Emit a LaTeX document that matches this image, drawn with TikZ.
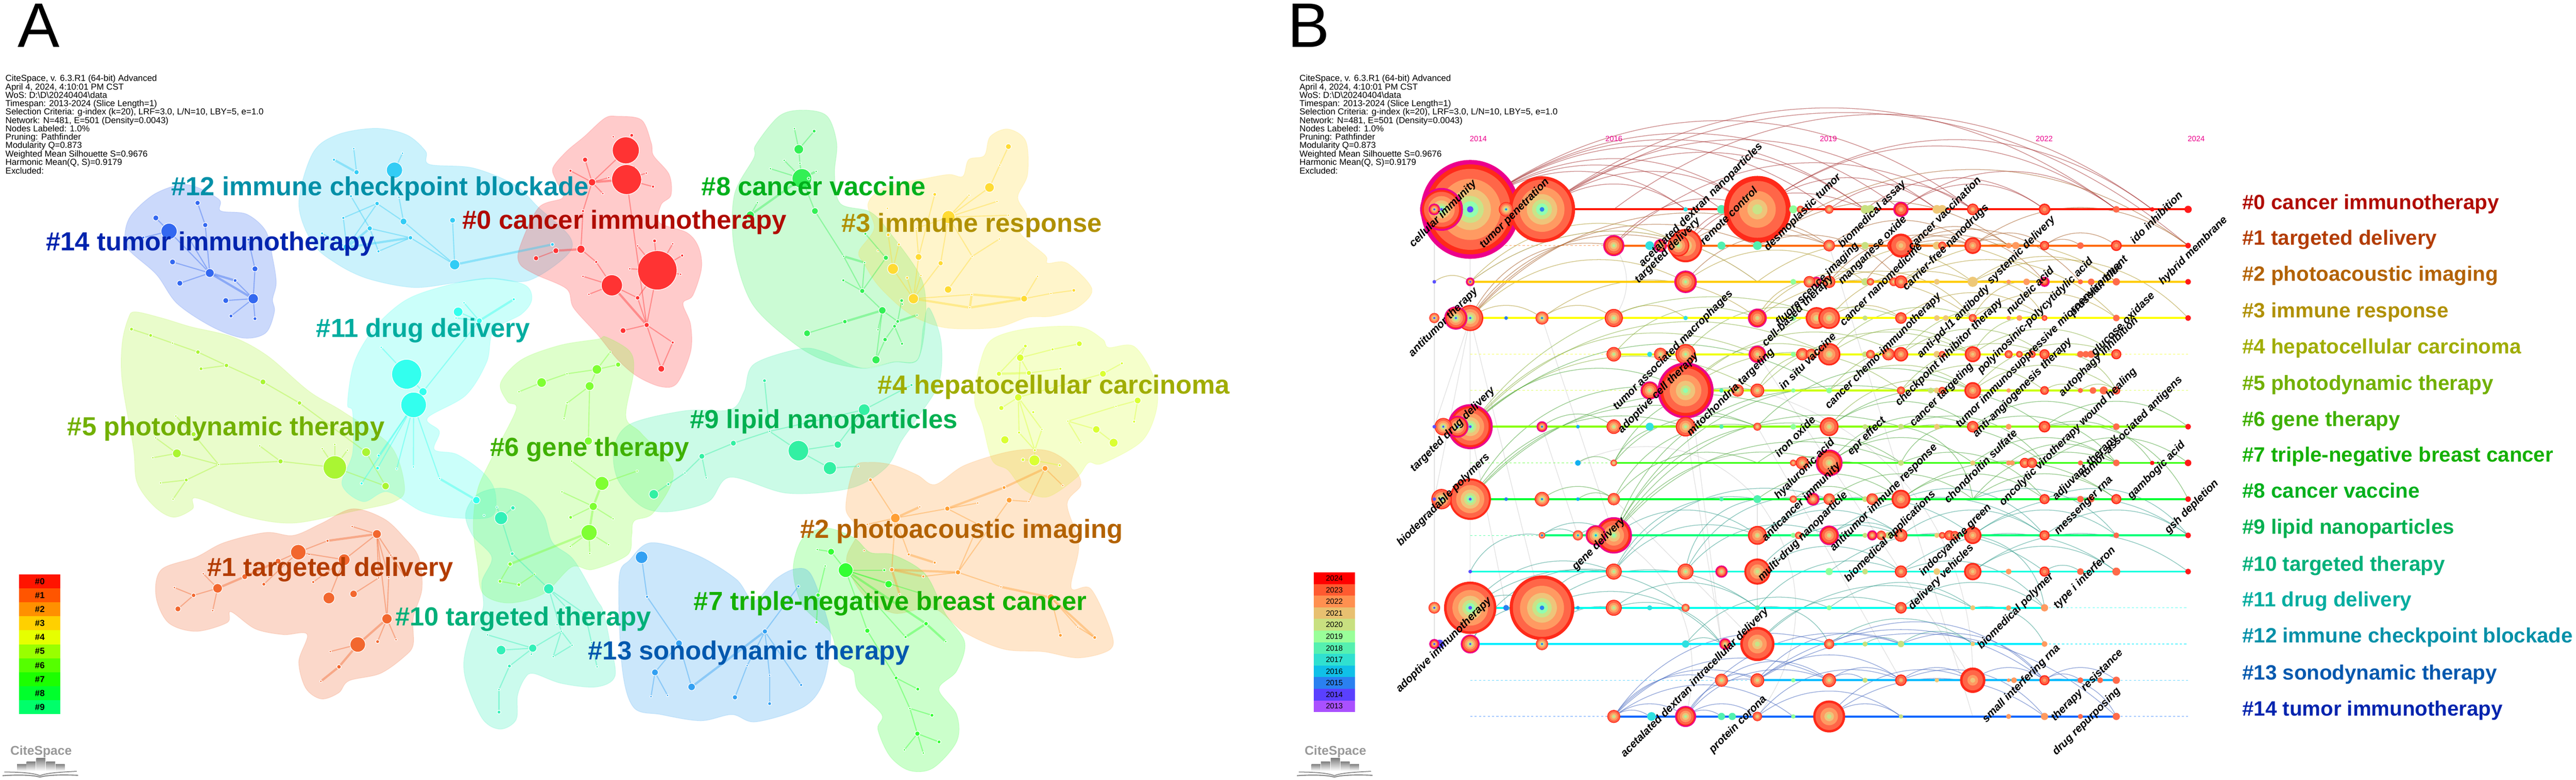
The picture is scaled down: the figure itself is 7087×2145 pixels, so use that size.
\documentclass[tikz,border=0pt]{standalone}
\usepackage{fontspec}
\setmainfont{Liberation Sans}
\definecolor{cl0}{HTML}{FF3333}\definecolor{cl1}{HTML}{F2672E}\definecolor{cl2}{HTML}{FF9F33}
\definecolor{cl3}{HTML}{FFDB33}\definecolor{cl4}{HTML}{DAFF33}\definecolor{cl5}{HTML}{AAF533}
\definecolor{cl6}{HTML}{7FFF33}\definecolor{cl7}{HTML}{33FF33}\definecolor{cl8}{HTML}{33F055}
\definecolor{cl9}{HTML}{33F0A3}\definecolor{cl10}{HTML}{33F0B8}\definecolor{cl11}{HTML}{33FFEE}
\definecolor{cl12}{HTML}{33CCF5}\definecolor{cl13}{HTML}{33A0F2}\definecolor{cl14}{HTML}{3368F0}
\definecolor{tx0}{HTML}{B00B00}\definecolor{tx1}{HTML}{B33C00}\definecolor{tx2}{HTML}{B36200}
\definecolor{tx3}{HTML}{B09000}\definecolor{tx4}{HTML}{A0AD00}\definecolor{tx5}{HTML}{72B000}
\definecolor{tx6}{HTML}{3FB000}\definecolor{tx7}{HTML}{14B000}\definecolor{tx8}{HTML}{00B01C}
\definecolor{tx9}{HTML}{00B050}\definecolor{tx10}{HTML}{00B07A}\definecolor{tx11}{HTML}{00ADA0}
\definecolor{tx12}{HTML}{0090A8}\definecolor{tx13}{HTML}{0058AE}\definecolor{tx14}{HTML}{0024AE}
\definecolor{cc0}{HTML}{5A50FF}\definecolor{cc1}{HTML}{2A80F0}\definecolor{cc2}{HTML}{10B0F0}
\definecolor{cc3}{HTML}{30E0E0}\definecolor{cc4}{HTML}{50F0B0}\definecolor{cc5}{HTML}{90FF9A}
\definecolor{cc6}{HTML}{C8E080}\definecolor{cc7}{HTML}{EEC878}\definecolor{cc8}{HTML}{FF9A60}
\definecolor{cc9}{HTML}{FF6A4A}\definecolor{cc10}{HTML}{FF1A1A}
\definecolor{lc0}{HTML}{FF1A00}\definecolor{lc1}{HTML}{FF6A00}\definecolor{lc2}{HTML}{FFCC00}
\definecolor{lc3}{HTML}{FFFF00}\definecolor{lc4}{HTML}{F0FF00}\definecolor{lc5}{HTML}{CCFF00}
\definecolor{lc6}{HTML}{88FF00}\definecolor{lc7}{HTML}{33FF00}\definecolor{lc8}{HTML}{00FF33}
\definecolor{lc9}{HTML}{00FF77}\definecolor{lc10}{HTML}{00FFDD}\definecolor{lc11}{HTML}{00FFEE}
\definecolor{lc12}{HTML}{00EEFF}\definecolor{lc13}{HTML}{00BBFF}\definecolor{lc14}{HTML}{0066FF}
\definecolor{rA}{HTML}{FF2A1A}\definecolor{rB}{HTML}{FF6648}\definecolor{rC}{HTML}{FF9A62}
\definecolor{rD}{HTML}{EFC47A}\definecolor{rE}{HTML}{C8E488}\definecolor{rF}{HTML}{90FFB0}
\definecolor{arcR}{HTML}{A83838}\definecolor{arcB}{HTML}{A8602A}\definecolor{arcO}{HTML}{B09A30}
\definecolor{arcL}{HTML}{88B040}\definecolor{arcG}{HTML}{50A840}\definecolor{arcT}{HTML}{3AA090}
\definecolor{arcU}{HTML}{4A6CC0}\definecolor{arcX}{HTML}{CFCFCF}
\tikzset{
 zA/.style={shift={(200,250)},x=.957pt,y=-.574pt},
 zB/.style={shift={(1700,250)},x=1.084pt,y=-.574pt},
 zC/.style={shift={(300,1100)},x=.957pt,y=-.6665pt},
 zD/.style={shift={(1700,1100)},x=1.084pt,y=-.6665pt},
 zE/.style={shift={(3550,300)},x=1.148pt,y=-.574pt},
 zF/.style={shift={(5000,300)},x=1.331pt,y=-.574pt},
 zG/.style={shift={(3550,1200)},x=1.148pt,y=-.6027pt},
 zH/.style={shift={(5000,1200)},x=1.331pt,y=-.6027pt},
 netnode/.style={circle,draw=white,line width=1.6pt,inner sep=0pt},
 blob/.style={fill=#1,fill opacity=.25,draw=#1,draw opacity=.15,line width=2pt},
 clusterA/.style={font=\fontsize{72}{72}\selectfont\bfseries,anchor=west,inner sep=0pt,text height=54pt,text depth=18pt},
 clusterB/.style={font=\fontsize{57}{57}\selectfont\bfseries,anchor=west,inner sep=0pt,text height=43pt,text depth=14pt},
 infotext/.style={font=\fontsize{24}{21.9}\selectfont,align=left,anchor=north west,inner sep=0pt},
 term/.style={font=\fontsize{30}{30}\selectfont\bfseries\itshape,rotate=45,anchor=west,inner sep=0pt,text=black},
 yearlab/.style={font=\fontsize{21}{21}\selectfont,text=magenta,inner sep=0pt},
 arcstyle/.style={draw=#1,draw opacity=.6,line width=1.8pt},
 laneS/.style={draw=#1,line width=5.5pt},
 laneD/.style={draw=#1,line width=1.6pt,dash pattern=on 6pt off 6pt,draw opacity=.6},
 legcell/.style={inner sep=0pt,minimum width=113pt,font=\bfseries\fontsize{24}{24}\selectfont}
}
\newdimen\dimAx\newdimen\dimAy\newdimen\dimBx\newdimen\dimBy
\newcommand\NetNodes[3]{\foreach \n/\px/\py/\r in {#3}{\node[netnode,fill=#2,minimum size=2*\r pt] (#1\n) at (\px,\py) {};}}
\newcommand\NetEdges[4]{\foreach \a/\b in {#4}{\draw[#2,draw opacity=.42,line width=#3pt] (#1\a) -- (#1\b);}}
\newcommand\ArcSet[2]{\foreach \a/\b in {#2}{%
  \pgfextractx{\dimAx}{\pgfpointanchor{g\a}{center}}\pgfextracty{\dimAy}{\pgfpointanchor{g\a}{center}}%
  \pgfextractx{\dimBx}{\pgfpointanchor{g\b}{center}}\pgfextracty{\dimBy}{\pgfpointanchor{g\b}{center}}%
  \pgfmathsetmacro\ddx{(\dimBx-\dimAx)}\pgfmathsetmacro\ddy{(\dimBy-\dimAy)}%
  \pgfmathsetmacro\cax{\dimAx+.3127*\ddx-.2356*\ddy}\pgfmathsetmacro\cay{\dimAy+.2356*\ddx+.3127*\ddy}%
  \pgfmathsetmacro\cbx{\dimBx-.3127*\ddx-.2356*\ddy}\pgfmathsetmacro\cby{\dimBy+.2356*\ddx-.3127*\ddy}%
  \draw[arcstyle=#1] (g\a) .. controls (\cax pt,\cay pt) and (\cbx pt,\cby pt) .. (g\b);}}
\newcommand\CNodes[2]{\foreach \c/\R/\f [count=\k] in {#2}{%
  \pgfmathsetmacro\xx{3946+98.75*\c}\pgfmathsetmacro\yy{576+99.65*#1}%
  \pgfmathtruncatemacro\ci{\c}\pgfmathtruncatemacro\cj{\c/2}%
  \ifnum\f=2
    \node[circle,inner sep=0pt,fill=cc\cj,minimum size=2*\R pt] (L#1N\k) at (\xx,\yy) {};
  \else
    \node[circle,inner sep=0pt,minimum size=2*\R pt] (L#1N\k) at (\xx,\yy) {};
    \pgfmathsetmacro\Rr{\R}%
    \ifnum\f=1
      \fill[magenta] (\xx,\yy) circle[radius=\R];
      \pgfmathsetmacro\Rr{\R-max(3.5,.09*\R)}%
    \fi
    \ifnum\ci<5 \def\rl{1/rA,.9/rB,.68/rC,.46/rD,.3/rE,.18/rF}%
    \else\ifnum\ci<9 \def\rl{1/rA,.88/rB,.62/rC,.38/rD,.2/rE,.1/rF}%
    \else\ifnum\ci<13 \def\rl{1/rA,.85/rB,.55/rC,.3/rD,.15/rE}%
    \else\ifnum\ci<17 \def\rl{1/rA,.8/rB,.42/rC,.2/rD}%
    \else\ifnum\ci<20 \def\rl{1/rA,.75/rB,.35/rC}%
    \else \def\rl{1/rA}\fi\fi\fi\fi\fi
    \foreach \ff/\col in \rl {\fill[\col] (\xx,\yy) circle[radius=\ff*\Rr];}%
    \ifnum\ci<5 \pgfmathsetmacro\Rc{max(3,.07*\Rr)}\fill[cc\cj] (\xx,\yy) circle[radius=\Rc];\fi
  \fi}}
\newcommand\Logo[2]{\begin{scope}[shift={(#1,0)}]
 \node[text=black!40,font=\bfseries\fontsize{35}{35}\selectfont,inner sep=0pt] (logotext#2) at (113,2068) {CiteSpace};
 \foreach \xa/\xb/\yt in {47/72/2102,73/98/2095,100/125/2086,127/152/2095,153/178/2102}{
  \shade[top color=black!50,bottom color=white] (\xa,\yt) rectangle (\xb,2121);}
 \draw[black!45,line width=2.5pt] (12,2124) .. controls (50,2124) and (90,2126) .. (110,2134) .. controls (130,2126) and (170,2124) .. (211,2122);
 \draw[black!45,line width=3pt] (7,2134) .. controls (50,2131) and (90,2132) .. (110,2138) .. controls (130,2132) and (170,2131) .. (215,2133);
\end{scope}}
\begin{document}
\begin{tikzpicture}[x=1pt,y=-1pt]
\useasboundingbox (0,0) rectangle (7087,2145);
\fill[white] (0,0) rectangle (7087,2145);
%% ---------- panel A blobs
\draw[blob=cl5] plot[smooth cycle,tension=.55] coordinates {(372,858)(449,876)(525,899)(640,927)(736,979)(851,1077)(946,1134)(1075,1227)(1113,1340)(1085,1380)(970,1407)(807,1439)(673,1420)(539,1370)(530,1400)(477,1423)(424,1393)(377,1327)(367,1233)(336,1050)(336,945)(353,876)};
\draw[blob=cl14] plot[smooth cycle,tension=.55] coordinates {(516,508)(602,548)(607,580)(678,589)(731,635)(750,709)(760,778)(750,824)(755,858)(731,916)(669,930)(583,899)(487,835)(430,755)(353,686)(344,640)(363,589)(430,531)};
\draw[blob=cl12] plot[smooth cycle,tension=.55] coordinates {(1033,353)(1119,371)(1171,416)(1181,452)(1301,462)(1415,508)(1482,571)(1568,652)(1559,703)(1454,772)(1348,767)(1253,778)(1138,791)(1013,767)(927,726)(860,669)(822,560)(860,422)(927,371)};
\draw[blob=cl0] plot[smooth cycle,tension=.55] coordinates {(1700,320)(1765,330)(1792,394)(1798,428)(1841,480)(1846,537)(1819,563)(1814,612)(1890,640)(1922,680)(1930,738)(1906,813)(1879,835)(1900,893)(1900,968)(1863,1054)(1819,1064)(1754,1036)(1700,990)(1645,922)(1578,847)(1559,795)(1473,755)(1430,726)(1430,680)(1482,571)(1549,543)(1530,497)(1521,462)(1559,416)(1607,376)(1664,325)};
\draw[blob=cl11] plot[smooth cycle,tension=.55] coordinates {(1348,765)(1444,784)(1463,824)(1435,864)(1358,910)(1339,996)(1281,1088)(1176,1150)(1209,1187)(1195,1237)(1257,1250)(1329,1300)(1362,1353)(1353,1420)(1257,1425)(1161,1407)(1066,1353)(999,1380)(941,1333)(970,1247)(970,1133)(956,1111)(975,996)(1033,899)(1119,824)(1234,784)};
\draw[blob=cl8] plot[smooth cycle,tension=.55] coordinates {(2209,303)(2275,319)(2302,394)(2296,480)(2312,560)(2394,583)(2448,640)(2535,767)(2546,881)(2524,990)(2459,996)(2372,1013)(2264,990)(2177,939)(2069,835)(2020,686)(2020,537)(2074,434)(2079,399)(2144,319)};
\draw[blob=cl3] plot[smooth cycle,tension=.55] coordinates {(2773,355)(2822,388)(2827,480)(2800,543)(2825,594)(2806,640)(2876,703)(2882,724)(2936,724)(3004,795)(2963,847)(2892,870)(2827,873)(2741,901)(2611,903)(2535,881)(2480,847)(2415,784)(2378,726)(2363,692)(2405,629)(2388,560)(2437,514)(2546,491)(2611,480)(2649,485)(2665,439)(2708,428)(2724,376)};
\draw[blob=cl4] plot[smooth cycle,tension=.55] coordinates {(2730,933)(2827,904)(2968,899)(3033,933)(3050,956)(3120,953)(3174,1036)(3183,1120)(3142,1213)(3033,1275)(2995,1273)(2963,1313)(2882,1367)(2817,1347)(2773,1293)(2730,1267)(2703,1167)(2681,1100)(2697,996)};
\draw[blob=cl9] plot[smooth cycle,tension=.55] coordinates {(2047,1077)(2074,1002)(2199,960)(2264,967)(2372,1013)(2459,996)(2524,990)(2540,899)(2556,847)(2589,939)(2583,1054)(2524,1150)(2480,1213)(2437,1287)(2340,1343)(2166,1357)(2009,1313)(1949,1380)(1841,1408)(1765,1393)(1700,1320)(1689,1233)(1733,1167)(1884,1130)(2009,1127)};
\draw[blob=cl6] plot[smooth cycle,tension=.55] coordinates {(1645,933)(1540,950)(1434,990)(1377,1054)(1396,1105)(1420,1127)(1353,1260)(1314,1347)(1302,1447)(1314,1553)(1329,1633)(1400,1659)(1496,1633)(1573,1560)(1630,1567)(1726,1527)(1738,1473)(1745,1433)(1798,1410)(1852,1300)(1765,1193)(1722,1147)(1743,1025)(1733,967)(1667,927)};
\draw[blob=cl10] plot[smooth cycle,tension=.55] coordinates {(1381,1343)(1448,1367)(1496,1420)(1520,1493)(1578,1540)(1640,1647)(1659,1680)(1678,1767)(1692,1860)(1640,1890)(1544,1880)(1468,1853)(1444,1866)(1424,1913)(1420,1980)(1377,2006)(1329,1980)(1286,1886)(1276,1820)(1295,1740)(1329,1673)(1326,1600)(1353,1533)(1300,1473)(1281,1413)(1314,1360)};
\draw[blob=cl2] plot[smooth cycle,tension=.55] coordinates {(2394,1272)(2459,1280)(2524,1307)(2573,1333)(2654,1280)(2784,1241)(2882,1240)(2947,1280)(2974,1333)(2936,1387)(2968,1500)(2947,1617)(3001,1620)(3055,1733)(3055,1786)(2968,1810)(2871,1793)(2762,1786)(2654,1740)(2567,1673)(2459,1687)(2372,1633)(2329,1540)(2361,1460)(2327,1400)(2350,1287)};
\draw[blob=cl7] plot[smooth cycle,tension=.55] coordinates {(2275,1453)(2350,1480)(2394,1520)(2459,1527)(2546,1580)(2600,1687)(2654,1767)(2632,1846)(2583,1896)(2632,1966)(2632,2040)(2567,2113)(2502,2120)(2448,2080)(2415,2006)(2426,1966)(2361,1900)(2347,1846)(2307,1820)(2285,1740)(2209,1667)(2182,1567)(2209,1480)};
\draw[blob=cl13] plot[smooth cycle,tension=.55] coordinates {(1792,1493)(1917,1527)(2025,1593)(2074,1653)(2134,1593)(2188,1565)(2231,1580)(2275,1700)(2285,1767)(2264,1880)(2209,1946)(2079,1986)(2014,1966)(1928,1983)(1819,1966)(1743,1946)(1711,1833)(1703,1593)(1733,1540)};
\draw[blob=cl1] plot[smooth cycle,tension=.55] coordinates {(970,1400)(1056,1427)(1113,1480)(1152,1533)(1161,1620)(1137,1700)(1137,1773)(1113,1806)(1046,1853)(960,1873)(932,1906)(884,1923)(841,1893)(822,1820)(845,1745)(779,1746)(702,1730)(635,1683)(625,1713)(539,1737)(463,1713)(429,1640)(444,1567)(539,1533)(616,1493)(731,1465)(807,1473)(884,1440)};
%% ---------- panel A nodes
\begin{scope}[zA]
\NetNodes{kE}{cl14}{a/359/537/7,b/239/609/8,c/381/643/7,d/277/673/22,e/203/703/4,f/333/703/6,g/505/713/4,h/287/820/8,i/394/873/12,j/524/853/8,k/467/909/5,l/308/922/8,m/519/996/14,n/440/1005/8,o/455/1079/5,p/524/1092/5}
\NetNodes{kC}{cl12}{a/808/277/3,b/751/330/4,c/948/299/3,d/816/390/7,e/925/380/22,f/800/505/4,g/875/540/6,h/938/510/3,i/778/609/4,j/951/626/9,k/854/659/7,l/1092/620/8,m/717/683/4,n/971/704/6,o/788/750/10,p/879/769/4,q/1098/833/14,r/1379/736/5}
\NetNodes{kZ}{cl0}{u/1473/330/7,v/1431/383/4,w/1554/220/3,x/1493/438/10,y/1524/492/3,z/1541/416/3,aa/1467/576/4,ab/1461/759/11,ac/1389/766/8,ad/1332/802/7,ae/1505/820/4,af/1467/889/3,ag/1550/932/29,ah/1484/975/3}
\NetNodes{kL}{cl11}{a/1125/1016/3,b/1268/999/4,c/1108/1059/13,d/1102/1089/3,e/1169/1102/8,f/887/1229/3,g/960/1358/41,h/1007/1442/11,i/980/1505/35}
\NetNodes{kF}{cl5}{a/169/1142/5,b/224/1172/5,c/287/1209/3,d/360/1252/6,e/442/1316/6,f/369/1332/5,g/547/1395/8,h/652/1496/6,i/297/1558/3}
\NetNodes{kG}{cl6}{a/1507/1335/13,b/1348/1398/13,c/1486/1415/12,d/1421/1356/3,e/1283/1442/3,f/1421/1497/3,g/1545/1252/3,h/1568/1312/7}
\end{scope}
\begin{scope}[zB]
\NetNodes{kZ}{cl0}{a/35/213/5,b/20/285/37,c/37/377/7,d/22/425/41,e/72/394/3,f/89/459/4,g/93/719/5,h/50/743/3,i/139/733/3,j/163/789/4,k/30/853/3,l/100/860/54,m/159/879/3,n/50/992/6,p/73/1122/7,q/13/1149/8,s/139/1206/4,t/110/1332/9}
\NetNodes{kH}{cl8}{a/448/181/3,b/498/193/5,c/459/280/13,d/422/333/3,e/462/347/3,f/387/373/3,g/503/386/3,h/467/420/27,i/484/420/4,j/354/536/3,k/500/576/9,l/336/595/11,m/573/793/3,n/626/823/3,o/572/908/4,p/620/959/7,q/671/1052/10,r/576/1106/6,s/480/1162/9,t/720/1005/5,u/722/1022/3,v/759/1075/3,w/710/1105/5,x/702/1128/5,y/660/1145/3,z/678/1192/6,aa/721/1212/4,ab/655/1289/11,ac/628/685/4,ad/680/800/7}
\NetNodes{kD}{cl3}{a/991/267/8,b/969/356/3,c/943/463/13,d/804/496/5,e/891/500/3,f/962/530/3,g/684/563/3,h/839/605/18,i/991/596/3,j/757/659/3,k/686/690/5,l/968/710/3,m/713/736/4,n/660/766/3,o/899/793/3,p/763/796/9,q/819/826/7,r/698/853/15,s/769/885/3,t/734/896/4,u/838/952/10,v/750/996/14,w/898/976/3,x/893/1039/3,y/1031/996/9,z/1099/971/3,aa/1157/956/5,ab/1065/889/3}
\NetNodes{kA}{cl4}{a/1171/1212/8,b/1034/1223/5,c/1103/1239/4,d/1021/1279/10,e/1279/1306/4,f/1123/1332/4,g/967/1356/7,h/1043/1352/7,i/1231/1356/9,j/1180/1445/5,k/1016/1469/10,l/1319/1484/9,m/973/1520/7,n/1054/1540/4,o/1264/1512/3}
\NetNodes{kI}{cl9}{a/372/1389/5,b/625/1528/16,c/745/1410/4}
\end{scope}
\begin{scope}[zC]
\NetNodes{kF}{cl5}{j/192/67/3,k/134/157/3,l/243/142/7,m/195/221/12,n/126/239/3,o/315/267/3,p/433/190/3,q/493/254/7,r/649/279/32,s/613/202/3,t/649/184/3,u/685/208/3,v/739/216/12,w/795/356/10,x/222/331/5,y/148/343/3,z/184/410/3}
\NetNodes{kL}{cl11}{j/775/230/4,k/772/282/5,l/827/285/3,m/875/277/3,n/726/345/4,o/950/325/3,p/1056/414/10}
\NetNodes{kG}{cl6}{i/1317/12/3,j/1308/78/3,k/1378/170/11,m/1330/253/3,n/1518/294/3,o/1417/345/19,pp/1302/380/3,q/1392/440/11,r/1327/485/5,s/1449/491/3,t/1380/548/22,u/1326/605/3,v/1436/598/3,w/1382/634/3,ff/1153/678/6,gg/1223/720/3,ii/1124/749/5,jj/1178/763/5}
\NetNodes{kB}{cl10}{a/1127/488/18,b/1115/443/3,c/1161/446/6,d/1078/477/3,e/1159/635/5,h/1264/780/14,k/1315/858/5,l/1369/885/9,m/1088/970/3,n/1127/1033/13,o/1218/1025/11,p/1214/1050/3,q/1151/1099/5,r/1300/955/3,s/1331/1013/3,t/1277/1060/3,u/1288/928/3,v/1121/1196/3,w/1121/1289/5,x/1403/1102/3,y/1387/1002/3}
\NetNodes{kO}{cl1}{a/699/523/3,b/770/554/12,c/628/582/4,d/544/629/21,e/575/638/3,f/676/660/16,g/486/666/8,h/810/641/3,i/271/718/3,j/390/730/8,k/445/761/5,l/587/752/4,m/775/735/3,n/804/733/3,o/850/730/3,p/312/778/13,q/188/775/3,r/243/807/6,s/198/863/8,t/298/870/3,u/632/818/16,v/703/801/10,w/799/904/14,x/715/1010/21,y/772/998/5,z/825/990/3,aa/636/1039/3,ab/661/1102/6,ac/609/1162/3}
\end{scope}
\begin{scope}[zD]
\NetNodes{kA}{cl4}{p/1310/90/4,q/1142/88/3,r/1214/122/10,s/1175/177/3,t/1258/177/12,u/982/165/11,v/1018/135/4,w/1076/122/3,x/1058/208/4,y/1057/250/15,z/1028/247/5,aa/1121/270/4}
\NetNodes{kT}{cl2}{a/641/330/5,b/766/442/3,c/704/488/13,d/836/449/7,e/913/426/3,f/980/362/5,g/1084/283/8,h/1129/354/3,i/993/414/8,j/1043/420/3,k/915/515/6,l/633/514/3,m/625/622/3,n/738/638/4,o/804/672/4,p/695/701/6,q/775/729/4,r/863/712/7,s/972/772/3,t/715/803/3,u/1099/816/10,v/1170/858/3,w/1167/938/3,x/1123/972/5,y/1210/981/5}
\NetNodes{kS}{cl7}{a/506/618/3,b/541/627/9,c/526/686/3,d/578/703/20,e/676/703/4,f/687/761/10,g/508/806/6,h/767/798/4,i/504/918/4,j/633/953/7,k/782/924/6,l/730/979/4,m/832/998/3,n/706/1148/5,o/761/1194/5,p/741/1274/3,q/797/1302/5,r/760/1378/7,s/815/1412/5,t/727/1445/3,u/775/1458/3}
\NetNodes{kM}{cl13}{a/60/650/17,b/74/813/4,c/155/1005/9,d/94/1125/9,e/187/1185/10,f/84/1225/3,g/126/1220/3,h/373/956/7,i/458/770/4,j/328/1097/3,k/385/1137/3,l/297/1228/7,m/385/1254/5,n/465/1177/4}
\NetNodes{kI}{cl9}{d/293/179/8,e/213/233/8,f/385/130/3,g/458/210/28,h/558/185/10,i/538/282/18,j/610/274/3,k/128/348/4,l/170/302/3,m/224/322/3,n/91/390/13}
\end{scope}
%% ---------- panel A edges
\NetEdges{kE}{cl14}{3}{a/c,c/i,b/d,e/d,d/i,f/i,g/j,j/m,h/i,l/i,k/m,n/m,o/m,p/m}
\NetEdges{kE}{cl14}{6}{i/m,i/k}
\NetEdges{kC}{cl12}{3}{a/d,c/e,f/k,g/o,g/i,g/j,h/j,i/o,k/n,k/p,m/o,n/p,j/q,n/q,l/q}
\NetEdges{kC}{cl12}{6}{b/d,k/o,n/o,q/r}
\NetEdges{kZ}{cl0}{3}{b/a,b/x,x/u,x/v,x/y,x/z,x/aa,aa/ab,ac/ad,ab/ae,ae/ag,af/ag,ah/ag,d/c,d/e,d/f,l/g,l/h,l/i,l/j,l/k,l/m,l/n,n/p,ag/n,d/p,l/p,p/q,p/s,p/t,s/t}
\NetEdges{kZ}{cl0}{6}{x/d,ab/ac,ag/p}
\NetEdges{kH}{cl8}{3}{a/c,b/c,c/e,e/h,d/h,f/h,h/k,j/l,k/m,m/p,n/p,o/p,ac/ad,ad/p,p/q,r/s,q/w,w/x,q/y,x/z,x/aa,z/ab,t/w,ab/q}
\NetEdges{kH}{cl8}{6}{g/h,h/l,m/n,q/r,v/w}
\NetEdges{kD}{cl3}{3}{a/b,b/c,c/h,e/h,f/h,i/h,d/p,h/q,h/j,j/p,p/v,q/v,o/l,o/u,h/o,v/w,r/v,k/r,m/r,t/v,s/v,y/z,z/aa,y/ab}
\NetEdges{kD}{cl3}{6}{v/x,w/y,x/y,w/x}
\NetEdges{kA}{cl4}{3}{a/c,c/d,d/b,b/g,d/h,h/f,d/k,k/m,k/x,k/w,k/v,v/x,w/x,x/y,y/z,y/aa,l/o,o/q,q/r,q/s,r/t,p/l,e/i,i/k}
\NetEdges{kA}{cl4}{6}{g/h}
\NetEdges{kT}{cl2}{3}{a/c,c/d,d/e,d/k,g/h,g/j,i/j,c/l,i/r,c/p,c/n,q/r,r/s,u/x,u/w,w/y,k/r}
\NetEdges{kT}{cl2}{6}{c/b,d/f,f/g,n/o,p/q,p/r,p/t,s/u,u/y}
\NetEdges{kS}{cl7}{3}{a/b,b/d,c/g,d/e,d/f,d/h,d/j,j/n,n/o,n/p,p/q,p/r,r/s,r/t,r/u,g/i,d/l}
\NetEdges{kS}{cl7}{6}{d/k,k/l,k/m}
\NetEdges{kM}{cl13}{3}{a/b,b/c,c/e,c/d,d/f,d/g,h/i,h/j,j/l,h/k,k/m,h/n}
\NetEdges{kM}{cl13}{6}{h/e}
\NetEdges{kB}{cl10}{3}{a/e,e/h,a/b,a/c,h/k,h/l,h/r,r/o,r/t,r/s,s/t,o/n,o/q,m/o,o/p,q/v,v/w,l/y,y/x}
\NetEdges{kG}{cl6}{3}{b/d,d/a,b/e,a/c,a/g,a/h,c/f,i/j,o/m,o/n,q/pp,q/r,q/s,t/u,t/v,t/w,ff/ii,ii/jj,jj/gg,c/k}
\NetEdges{kG}{cl6}{6}{o/q,q/t,t/ff}
\NetEdges{kF}{cl5}{3}{a/b,b/c,c/d,d/e,e/g,g/h,h/v,e/f,k/m,n/m,m/o,l/o,j/l,o/q,p/q,q/r,s/r,t/r,u/r,r/w,v/w,x/o,x/y,x/z}
\NetEdges{kL}{cl11}{3}{a/e,c/e,d/e,g/h,e/h,f/g,h/i,i/j,i/k,i/l,i/m,i/n,i/o}
\NetEdges{kL}{cl11}{6}{b/e,o/p}
\NetEdges{kO}{cl1}{3}{a/b,c/d,d/g,d/f,b/f,b/h,b/m,b/n,b/w,h/o,n/w,i/p,p/r,q/r,r/s,p/t,k/d,l/f,f/u,m/v,w/y,w/z,aa/x}
\NetEdges{kO}{cl1}{6}{b/c,g/j,j/p,w/x,x/ab,ab/ac}
\NetEdges{kI}{cl9}{3}{a/f,b/c,b/f,f/d,d/e,e/l,l/k,k/n,e/m,f/g,g/h,g/i,h/b,i/j}
%% ---------- panel A labels
\node[clusterA,text=tx0] (tA0) at (1272,612) {\#0 cancer immunotherapy};
\node[clusterA,text=tx12] (tA12) at (471,520) {\#12 immune checkpoint blockade};
\node[clusterA,text=tx14,anchor=east] (tA14) at (1031,672) {\#14 tumor immunotherapy};
\node[clusterA,text=tx8] (tA8) at (1930,520) {\#8 cancer vaccine};
\node[clusterA,text=tx3] (tA3) at (2315,620) {\#3 immune response};
\node[clusterA,text=tx4] (tA4) at (2415,1065) {\#4 hepatocellular carcinoma};
\node[clusterA,text=tx11] (tA11) at (870,910) {\#11 drug delivery};
\node[clusterA,text=tx5,anchor=east] (tA5) at (1058,1180) {\#5 photodynamic therapy};
\node[clusterA,text=tx6] (tA6) at (1348,1237) {\#6 gene therapy};
\node[clusterA,text=tx9] (tA9) at (1898,1161) {\#9 lipid nanoparticles};
\node[clusterA,text=tx2] (tA2) at (2201,1463) {\#2 photoacoustic imaging};
\node[clusterA,text=tx1] (tA1) at (570,1567) {\#1 targeted delivery};
\node[clusterA,text=tx10] (tA10) at (1087,1703) {\#10 targeted therapy};
\node[clusterA,text=tx7] (tA7) at (1909,1661) {\#7 triple-negative breast cancer};
\node[clusterA,text=tx13] (tA13) at (1618,1797) {\#13 sonodynamic therapy};
%% ---------- headers
\node[font=\fontsize{173}{173}\selectfont,inner sep=0pt,anchor=base] (panelA) at (107,129) {A};
\node[font=\fontsize{173}{173}\selectfont,inner sep=0pt,anchor=base] (panelB) at (3600,129) {B};
\node[infotext] (infoA) at (15,206) {CiteSpace, v. 6.3.R1 (64-bit) Advanced\\April 4, 2024, 4:10:01 PM CST\\WoS: D:\textbackslash D\textbackslash 20240404\textbackslash data\\Timespan: 2013-2024 (Slice Length=1)\\Selection Criteria: g-index (k=20), LRF=3.0, L/N=10, LBY=5, e=1.0\\Network: N=481, E=501 (Density=0.0043)\\Nodes Labeled: 1.0\%\\Pruning: Pathfinder\\Modularity Q=0.873\\Weighted Mean Silhouette S=0.9676\\Harmonic Mean(Q, S)=0.9179\\Excluded:};
\node[infotext] (infoB) at (3575,206) {CiteSpace, v. 6.3.R1 (64-bit) Advanced\\April 4, 2024, 4:10:01 PM CST\\WoS: D:\textbackslash D\textbackslash 20240404\textbackslash data\\Timespan: 2013-2024 (Slice Length=1)\\Selection Criteria: g-index (k=20), LRF=3.0, L/N=10, LBY=5, e=1.0\\Network: N=481, E=501 (Density=0.0043)\\Nodes Labeled: 1.0\%\\Pruning: Pathfinder\\Modularity Q=0.873\\Weighted Mean Silhouette S=0.9676\\Harmonic Mean(Q, S)=0.9179\\Excluded:};
%% ---------- legends
\foreach \t/\col [count=\k from 0] in {0/FF1400,1/FF5500,2/FF9000,3/FFD000,4/E6FF00,5/99FF00,6/55FF00,7/1CFF00,8/00FF2C,9/00FF6A}{
 \definecolor{legc}{HTML}{\col}
 \node[legcell,fill=legc,minimum height=38.6pt] (legA\k) at (109.5,{1599.3+38.5*\k}) {\#\t};}
\foreach \t/\col [count=\k from 0] in {2024/FF0000,2023/FF5A30,2022/FF9050,2021/E8C070,2020/C8E080,2019/99FF99,2018/55F0B0,2017/30E0D0,2016/10C0E8,2015/2A80F0,2014/5A40FF,2013/AA50FF}{
 \definecolor{legc}{HTML}{\col}
 \node[legcell,fill=legc,minimum height=32.1pt,font=\fontsize{21}{21}\selectfont] (legB\k) at (3671,{1591+32*\k}) {\t};}
\Logo{0}{A}
\Logo{3561}{B}
%% ---------- panel B grid
\foreach \l in {0,...,14}{\foreach \c in {0,...,21}{\coordinate (g\l-\c) at ({3946+98.75*\c},{576+99.65*\l});}}
%% ---------- grey links
\foreach \a/\b in {0-0/12-0,0-1/6-1,6-1/11-2,3-1/6-0,0-1/8-1,3-3/9-5,6-3/9-4,6-1/12-1,3-1/8-0}{\draw[arcstyle=arcX] (g\a) -- (g\b);}
\ArcSet{arcX}{2-1/2-9,7-4/8-9,9-5/14-7,8-9/14-9,5-9/13-15,1-5/3-5}
\foreach \a/\b in {1-11/14-15,4-9/13-15,6-7/12-8,8-5/12-9,6-9/13-13,4-7/12-8,3-1/11-3,8-9/12-9}{\draw[arcstyle=arcX] (g\a) -- (g\b);}
%% ---------- arcs
\ArcSet{arcR}{0-1/0-7,0-1/0-8,0-1/0-9,0-1/0-11,0-1/0-12,0-1/0-13,0-1/0-15,0-3/1-21,0-3/0-7,0-3/0-9,0-3/0-12,0-3/0-14,0-3/0-19,0-5/0-20,1-5/0-9,1-7/0-12,1-5/0-15,0-9/0-14,0-9/0-19,0-9/0-20,0-11/0-15,0-12/0-17,0-13/0-17,0-13/0-19,1-7/0-9}
\ArcSet{arcB}{1-9/1-21,1-15/1-21,1-9/1-16,1-15/1-16,1-15/1-17,1-17/1-18,1-17/1-19,1-11/1-15,1-7/1-11,1-13/1-16,2-7/1-11,2-11/1-15,2-12/1-15,1-9/2-13,1-13/2-17,1-13/2-18,3-1/1-5,3-1/1-9,3-1/1-7,3-1/1-11}
\ArcSet{arcO}{2-0/2-1,3-1/3-3,3-1/2-7,3-3/3-5,3-5/3-7,3-3/3-9,2-1/1-7,2-1/2-9,2-7/2-12,2-9/2-15,2-11/2-17,2-13/2-19,2-15/2-19,2-15/3-21,2-13/3-19,3-9/2-13,3-9/3-15,3-11/3-13,3-13/3-17,3-15/3-19,3-15/2-17,3-11/2-15,2-15/3-17,3-9/2-11,2-11/3-15}
\ArcSet{arcL}{4-5/3-9,4-7/3-11,4-9/3-13,4-11/4-15,4-11/3-15,4-13/4-17,4-15/4-19,4-15/3-17,4-13/3-17,5-7/4-13,5-7/5-13,5-9/4-15,5-11/4-15,5-11/5-15,5-15/5-19,5-15/4-19,5-17/5-18,5-18/5-19,5-13/5-17,5-13/4-17,4-17/5-19,5-9/4-11,6-1/4-9,6-1/5-9,6-1/4-11,6-1/3-11,5-7/4-11,6-11/5-15}
\ArcSet{arcG}{6-1/5-7,6-1/5-11,8-1/6-7,8-1/6-9,8-1/5-7,8-1/6-11,9-5/7-11,9-5/6-11,9-5/7-13,9-5/5-11,9-5/6-13,8-5/7-9,8-5/6-9,7-5/6-7,7-5/5-9,7-5/6-9,7-4/7-5,8-3/8-5,8-4/8-5,6-3/6-5,6-9/5-15,6-11/6-15,6-11/6-17,7-11/6-15,7-11/7-15,7-11/7-17,6-15/6-19,6-15/7-19,6-17/6-21,6-17/7-20,6-17/8-21,7-17/7-21,7-15/7-19,7-16/7-19,8-13/8-17,8-13/8-19,8-11/8-15,8-9/8-13,8-10/8-12,8-12/8-13,7-9/7-13,7-13/8-17,8-15/7-19,8-15/8-19,7-10/7-11,7-11/8-13,6-13/7-17,6-13/8-15,7-13/6-15,9-5/5-13}
\ArcSet{arcT}{10-1/9-3,9-3/9-4,9-3/9-5,9-4/9-5,10-5/9-9,10-5/8-11,10-5/8-9,10-7/9-11,10-7/8-9,10-7/8-11,11-3/10-5,11-1/10-5,12-1/11-3,12-1/10-5,12-3/11-5,12-3/11-3,11-1/11-3,11-1/11-7,11-3/12-8,11-5/12-8,11-3/11-9,11-5/11-9,11-9/12-11,10-9/10-13,10-9/9-13,10-11/10-17,10-13/10-19,10-15/10-21,10-15/10-19,10-17/10-18,9-15/11-17,11-13/11-17,11-9/10-13,12-7/12-8,12-9/11-13,12-9/11-15,12-11/12-15,12-12/12-13,12-13/12-15,11-15/12-17,9-5/9-9,9-9/9-13,9-9/9-15,9-11/9-17,9-13/9-17,9-15/9-19,9-15/9-21,9-17/9-21,8-13/9-17,8-15/9-19,8-17/9-21,10-13/11-17,11-11/11-15,12-7/11-11,9-11/9-13}
\ArcSet{arcU}{14-5/14-6,14-5/14-7,14-5/13-8,14-5/13-9,14-5/14-10,14-5/13-11,14-5/12-11,14-7/14-9,14-7/14-8,14-7/13-9,14-7/13-11,14-7/12-13,14-9/14-13,14-9/13-13,14-11/13-15,14-11/14-13,14-11/14-17,13-8/13-11,13-9/12-13,13-9/13-13,13-9/13-17,13-9/14-19,13-11/13-12,13-11/13-13,13-13/13-15,13-15/13-17,13-17/13-19,13-17/14-19,12-13/13-17,13-13/14-17,13-17/13-18,13-8/13-9,12-11/13-17}
%% ---------- lanes
\foreach \l/\a/\b in {0/1/21,1/5/21,2/1/21,3/1/21,4/5/19,5/7/19,6/1/21,7/5/21,8/1/21,9/3/21,10/1/21,11/1/17,12/1/17,13/9/19,14/5/19}{\draw[laneS=lc\l] (g\l-\a) -- (g\l-\b);}
\foreach \l/\a/\b in {1/1/5,4/1/5,4/19/21,5/1/7,5/19/21,7/1/5,9/1/3,11/17/21,12/17/21,13/1/9,13/19/21,14/1/5,14/19/21}{\draw[laneD=lc\l] (g\l-\a) -- (g\l-\b);}
%% ---------- citation nodes
\CNodes{0}{1/136/1,3/91/0,0.2/59/1,0/16/1,2/20/0,7/6/2,8/12/2,9/92/0,10/11/2,10.2/10/0,11/12/0,12/12/2,12.15/12/2,13/21/1,14/12/2,14.15/12/2,15/16/0,17/16/0,19/9/2,20/6/2,21/10/2}
\CNodes{1}{5/29/1,6/12/2,6.3/18/1,7/46/0,6.8/30/0,8/11/2,9/12/2,11/16/0,12/10/2,12.8/18/0,13/33/0,14/11/2,14.15/11/0,15/23/0,16/8/2,16.2/10/2,17/13/0,18/9/2,19/15/0,21/8/2}
\CNodes{2}{0/5/2,1/12/1,7/31/1,10/8/2,10.65/14/1,10.45/16/0,11/17/0,12/10/2,12.15/10/0,12.8/12/0,13/18/0,14/8/2,15/14/2,16/6/2,16.5/9/2,17/14/1,18/7/2,18.3/9/2,19/10/2,21/8/2}
\CNodes{3}{0/14/0,1/36/0,0.6/32/1,2/5/2,3/18/0,5/25/0,7/6/2,9/26/1,10/8/2,10.65/30/0,11/30/0,12/7/2,13/16/0,14/8/2,14.25/8/2,15/11/0,16/6/2,16.3/8/2,17/8/0,19/9/2,21/8/2}
\CNodes{4}{5/20/0,6/7/2,6.3/18/0,7/28/0,9/24/1,10/7/2,10.25/17/0,10.5/15/0,11/31/0,12/8/2,12.15/12/0,12.65/17/0,13/20/0,14/9/2,14.15/9/0,15/22/0,16/11/0,16.3/9/0,16.65/10/0,17/14/0,18/9/2,18.15/9/2,18.3/10/2,19/14/0}
\CNodes{5}{6/25/1,7/77/1,8/6/2,8.45/17/0,9/19/0,10/6/2,11/8/2,13/11/0,13.83/8/2,14/8/2,14.15/10/0,15/23/0,16/6/2,17/12/0,18/7/2,18.35/9/2,18.65/11/2,19/11/0}
\CNodes{6}{1/62/1,0.65/30/1,0.25/24/0,0/5/2,3/15/1,4/5/2,5/20/0,6/11/2,7/27/0,8/6/2,9/11/0,10/8/2,11/26/0,12/7/2,13/8/2,14/8/2,15/16/0,16/8/2,17/16/0,19/9/2,21/8/2}
\CNodes{7}{4/8/2,5/9/0,10/9/0,10.25/18/0,11/37/1,13/8/2,15/7/2,16/7/2,16.1/7/2,16.45/14/0,16.65/14/0,18/7/2,19/9/2,20/6/2,21/9/2}
\CNodes{8}{1/57/0,0.2/28/0,0/5/2,2/5/2,3/20/0,4/5/2,5/17/0,8/6/2,9/11/2,10/10/0,10.55/18/1,11/16/0,12/8/2,12.2/16/0,13/26/0,17/14/0,18/9/2,18.3/9/2,19/14/0,21/8/2}
\CNodes{9}{3/9/0,5/50/1,4.5/28/1,4/14/0,9/26/0,10/7/2,10.15/10/0,11/27/1,12/7/2,13/18/0,12.65/9/2,12.45/13/0,12.2/14/1,14/7/2,14.15/9/0,15/24/0,14.35/14/0,14.5/12/0,17/14/0,19/8/2,21/8/2}
\CNodes{10}{1/5/2,5/22/0,7/22/0,8/17/1,9/36/0,11/10/2,12/8/2,13/17/0,14/9/2,15/24/0,16/8/2,17/14/0,18/9/2,19/11/2,21/8/2}
\CNodes{11}{0/16/0,1/72/0,3/89/0,2/8/2,4/5/2,5/22/0,6/7/2,7/11/0,9/7/2,11/7/2,13/16/0,15/7/2,16/7/2,17/10/2}
\CNodes{12}{0.15/12/2,0/14/1,1/26/1,3/17/0,7/10/2,8.1/16/1,9/47/0,11/14/0,12/7/2,13/9/2,15/6/2,17/8/2}
\CNodes{13}{8/18/0,9/19/0,10/6/2,11/19/0,12/7/2,13/16/0,14/6/2,15/35/0,16/5/2,16.15/8/2,17/14/0,18/8/2,18.55/8/2,19/10/2}
\CNodes{14}{5/18/0,6.05/12/2,7/29/1,8/10/2,8.3/10/2,9/13/0,10/6/2,11/44/0,13/6/2,16/7/2,17/10/2,18/7/2,19/10/2}
%% ---------- years
\foreach \yr/\px in {2014/4067,2016/4440,2019/5030,2022/5624,2024/6042}{\node[yearlab] (y\yr) at (\px,382) {\yr};}
%% ---------- terms
\begin{scope}[zE]
\foreach \px/\py/\tx [count=\k] in {290/655/cellular immunity,458/660/tumor penetration,840/748/acetalated dextran nanoparticles,830/827/targeted delivery,985/640/remote control,1140/672/desmoplastic tumor,1318/658/biomedical assay,1168/1030/fluorescence imaging,1318/832/manganese oxide,1320/1028/cancer nanomedicine,288/1180/antitumor therapy,778/1435/tumor associated macrophages,790/1545/adoptive cell therapy,1135/1130/cell-based therapy,955/1560/mitochondria targeting,1175/1335/in situ vaccine}{\node[term] (tE\k) at (\px,\py) {\tx};}
\end{scope}
\begin{scope}[zF]
\foreach \px/\py/\tx [count=\k] in {190/665/cancer vaccination,180/862/carrier-free nanodrugs,20/1430/cancer chemo-immunotherapy,210/1185/anti-pd-l1 antibody,165/1415/checkpoint inhibitor therapy,195/1515/cancer targeting,335/1260/polyinosinic-polycytidylic acid,290/1520/tumor immunosuppressive microenvironment,525/985/prussian blue,393/975/nucleic acid,355/832/systemic delivery,650/635/ido inhibition,710/835/hybrid membrane,570/1175/glucose oxidase,503/1370/autophagy inhibition,325/1565/anti-angiogenesis therapy,545/1510/wound healing}{\node[term] (tF\k) at (\px,\py) {\tx};}
\end{scope}
\begin{scope}[zG]
\foreach \px/\py/\tx [count=\k] in {292/155/targeted drug delivery,260/495/biodegradable polymers,680/605/gene delivery,258/1163/adoptive immunotherapy,1165/85/iron oxide,1165/280/hyaluronic acid,1340/80/epr effect,1135/472/anticancer immunity,1125/655/multi-drug nanoparticle,795/1455/acetalated dextran,1008/1440/protein corona,962/1135/intracellular delivery}{\node[term] (tG\k) at (\px,\py) {\tx};}
\end{scope}
\begin{scope}[zH]
\foreach \px/\py/\tx [count=\k] in {548/184/tumor-associated antigens,380/310/oncolytic virotherapy,490/285/adjuvant therapy,265/295/chondroitin sulfate,645/280/gambogic acid,722/438/gsh depletion,495/445/messenger rna,30/518/antitumor immune response,60/658/biomedical applications,215/630/indocyanine green,192/785/delivery vehicles,335/965/biomedical polymer,492/780/type i interferon,345/1300/small interfering rna,487/1293/therapy resistance,490/1450/drug repurposing}{\node[term] (tH\k) at (\px,\py) {\tx};}
\end{scope}
%% ---------- panel B cluster labels
\foreach \t/\tx/\px [count=\k from 0] in {0/cancer immunotherapy/561,1/targeted delivery/660,2/photoacoustic imaging/759,3/immune response/860,4/hepatocellular carcinoma/959,5/photodynamic therapy/1059,6/gene therapy/1159,7/triple-negative breast cancer/1256,8/cancer vaccine/1355,9/lipid nanoparticles/1455,10/targeted therapy/1556,11/drug delivery/1655,12/immune checkpoint blockade/1754,13/sonodynamic therapy/1856,14/tumor immunotherapy/1955}{
 \node[clusterB,text=tx\t] (tB\k) at (6169,\px) {\#\t\ \tx};}
\end{tikzpicture}
\end{document}
